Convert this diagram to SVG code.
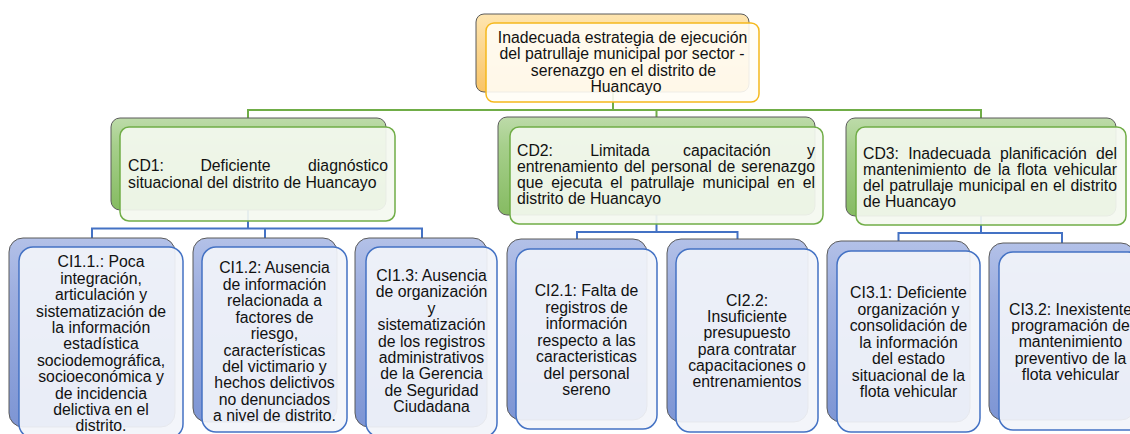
<svg xmlns="http://www.w3.org/2000/svg" width="1130" height="434" viewBox="0 0 1130 434">
<defs>
<linearGradient id="gOr" x1="0" y1="0" x2="0" y2="1"><stop offset="0" stop-color="#fee5b0"/><stop offset="1" stop-color="#f9c466"/></linearGradient>
<linearGradient id="gGr" x1="0" y1="0" x2="0" y2="1"><stop offset="0" stop-color="#bddba9"/><stop offset="0.3" stop-color="#a6cf8b"/><stop offset="1" stop-color="#86bb62"/></linearGradient>
<linearGradient id="gBl" x1="0" y1="0" x2="0" y2="1"><stop offset="0" stop-color="#b3c1e8"/><stop offset="0.3" stop-color="#9daedf"/><stop offset="1" stop-color="#7d95d4"/></linearGradient>
</defs>
<style>
.back{stroke:#5b5b5b;stroke-width:1}
.bo{fill:url(#gOr)}
.bg{fill:url(#gGr)}
.bb{fill:url(#gBl)}
.fo{fill:#fffdf6;fill-opacity:0.9;stroke:#f5b81c;stroke-width:1.5}
.fg{fill:#f4f8f0;fill-opacity:0.92;stroke:#70ad47;stroke-width:1.5}
.fb{fill:#f2f4fa;fill-opacity:0.92;stroke:#4472c4;stroke-width:1.5}
text{font-family:"Liberation Sans",Arial,sans-serif;font-size:15.8px;fill:#111}
.c{text-anchor:middle}
.e{text-anchor:end}
.lg{fill:none;stroke:#70ad47;stroke-width:2}
.lb{fill:none;stroke:#4472c4;stroke-width:2}
</style>
<g id="connectors">
<path class="lg" d="M613,92 V110 M247,110 H982 M248,110 V118 M656.5,110 V117 M981,110 V118"/>
<path class="lb" d="M248,210 V228.5 M91,228.5 H423 M92,228.5 V238 M265,228.5 V238 M422,228.5 V238"/>
<path class="lb" d="M656.5,215 V232 M576,232 H738.5 M577,232 V239 M737.5,232 V239"/>
<path class="lb" d="M981,216 V233 M897.5,233 H1063 M898.5,233 V241 M1062,233 V243"/>
</g>
<g id="root">
<rect class="back bo" x="476" y="14" width="273" height="78" rx="8"/>
<rect class="fo" x="486" y="23" width="273" height="79" rx="8"/>
<text class="c" x="622.5" y="43">Inadecuada estrategia de ejecución</text>
<text class="c" x="622" y="59.3">del patrullaje municipal por sector -</text>
<text class="c" x="623.5" y="75.6">serenazgo en el distrito de</text>
<text class="c" x="626" y="91.9">Huancayo</text>
</g>
<g id="cd1">
<rect class="back bg" x="111" y="118" width="275" height="92" rx="9"/>
<rect class="fg" x="120" y="127" width="275" height="94" rx="9"/>
<text x="128" y="171">CD1:</text>
<text class="c" x="235.5" y="171">Deficiente</text>
<text class="e" x="388" y="171">diagnóstico</text>
<text x="128" y="187.5">situacional del distrito de Huancayo</text>
</g>
<g id="cd2">
<rect class="back bg" x="498" y="117" width="317" height="98" rx="9"/>
<rect class="fg" x="510" y="127" width="313" height="97" rx="9"/>
<text x="517" y="156">CD2:</text>
<text class="c" x="620" y="156">Limitada</text>
<text class="c" x="727" y="156">capacitación</text>
<text class="e" x="815" y="156">y</text>
<text x="517" y="172.2" style="word-spacing:1.6px" textLength="298" lengthAdjust="spacing">entrenamiento del personal de serenazgo</text>
<text x="517" y="188.3" style="word-spacing:3.57px" textLength="298" lengthAdjust="spacing">que ejecuta el patrullaje municipal en el</text>
<text x="517" y="204.4">distrito de Huancayo</text>
</g>
<g id="cd3">
<rect class="back bg" x="846" y="118" width="270" height="98" rx="9"/>
<rect class="fg" x="856" y="127" width="270" height="98" rx="9"/>
<text x="863" y="158.5" style="word-spacing:4.8px" textLength="254" lengthAdjust="spacing">CD3: Inadecuada planificación del</text>
<text x="863" y="174.6" style="word-spacing:2.5px" textLength="254" lengthAdjust="spacing">mantenimiento de la flota vehicular</text>
<text x="863" y="190.7" style="word-spacing:0.75px" textLength="254" lengthAdjust="spacing">del patrullaje municipal en el distrito</text>
<text x="863" y="206.8">de Huancayo</text>
</g>
<g id="ci11">
<rect class="back bb" x="9" y="238" width="166" height="189" rx="14"/>
<rect class="fb" x="19" y="247" width="164" height="191" rx="14"/>
<text class="c" x="101" y="267.3">CI1.1.: Poca</text>
<text class="c" x="101" y="283.7">integración,</text>
<text class="c" x="101" y="300.1">articulación y</text>
<text class="c" x="101" y="316.5">sistematización de</text>
<text class="c" x="101" y="332.9">la información</text>
<text class="c" x="101" y="349.3">estadística</text>
<text class="c" x="101" y="365.7">sociodemográfica,</text>
<text class="c" x="101" y="382.1">socioeconómica y</text>
<text class="c" x="101" y="398.5">de incidencia</text>
<text class="c" x="101" y="414.9">delictiva en el</text>
<text class="c" x="101" y="431.3">distrito.</text>
</g>
<g id="ci12">
<rect class="back bb" x="193" y="238" width="144" height="184" rx="14"/>
<rect class="fb" x="202" y="247" width="145" height="185" rx="14"/>
<text class="c" x="274.5" y="273.3">CI1.2: Ausencia</text>
<text class="c" x="274.5" y="289.75">de información</text>
<text class="c" x="274.5" y="306.2">relacionada a</text>
<text class="c" x="274.5" y="322.65">factores de</text>
<text class="c" x="274.5" y="339.1">riesgo,</text>
<text class="c" x="274.5" y="355.55">características</text>
<text class="c" x="274.5" y="372">del victimario y</text>
<text class="c" x="274.5" y="388.45">hechos delictivos</text>
<text class="c" x="274.5" y="404.9">no denunciados</text>
<text class="c" x="274.5" y="421.35">a nivel de distrito.</text>
</g>
<g id="ci13">
<rect class="back bb" x="355" y="238" width="132" height="189" rx="14"/>
<rect class="fb" x="366" y="247" width="131" height="190" rx="14"/>
<text class="c" x="431.5" y="280.7">CI1.3: Ausencia</text>
<text class="c" x="431.5" y="297.15">de organización</text>
<text class="c" x="431.5" y="313.6">y</text>
<text class="c" x="431.5" y="330.05">sistematización</text>
<text class="c" x="431.5" y="346.5">de los registros</text>
<text class="c" x="431.5" y="362.95">administrativos</text>
<text class="c" x="431.5" y="379.4">de la Gerencia</text>
<text class="c" x="431.5" y="395.85">de Seguridad</text>
<text class="c" x="431.5" y="412.3">Ciudadana</text>
</g>
<g id="ci21">
<rect class="back bb" x="507" y="239" width="140" height="181" rx="14"/>
<rect class="fb" x="516" y="249" width="141" height="180" rx="14"/>
<text class="c" x="586.5" y="296.3">CI2.1: Falta de</text>
<text class="c" x="586.5" y="312.75">registros de</text>
<text class="c" x="586.5" y="329.2">información</text>
<text class="c" x="586.5" y="345.65">respecto a las</text>
<text class="c" x="586.5" y="362.1">caracteristicas</text>
<text class="c" x="586.5" y="378.55">del personal</text>
<text class="c" x="586.5" y="395">sereno</text>
</g>
<g id="ci22">
<rect class="back bb" x="667" y="239" width="141" height="183" rx="14"/>
<rect class="fb" x="676" y="249" width="142" height="183" rx="14"/>
<text class="c" x="747" y="305.7">CI2.2:</text>
<text class="c" x="747" y="322.05">Insuficiente</text>
<text class="c" x="747" y="338.4">presupuesto</text>
<text class="c" x="747" y="354.75">para contratar</text>
<text class="c" x="747" y="371.1">capacitaciones o</text>
<text class="c" x="747" y="387.45">entrenamientos</text>
</g>
<g id="ci31">
<rect class="back bb" x="827" y="241" width="143" height="181" rx="14"/>
<rect class="fb" x="837" y="251" width="143" height="181" rx="14"/>
<text class="c" x="908.5" y="298.3">CI3.1: Deficiente</text>
<text class="c" x="908.5" y="314.75">organización y</text>
<text class="c" x="908.5" y="331.2">consolidación de</text>
<text class="c" x="908.5" y="347.65">la información</text>
<text class="c" x="908.5" y="364.1">del estado</text>
<text class="c" x="908.5" y="380.55">situacional de la</text>
<text class="c" x="908.5" y="397">flota vehicular</text>
</g>
<g id="ci32">
<rect class="back bb" x="989" y="243" width="146" height="177" rx="14"/>
<rect class="fb" x="999" y="252" width="143" height="178" rx="14"/>
<text class="c" x="1070.5" y="315">CI3.2: Inexistente</text>
<text class="c" x="1070.5" y="331.2">programación de</text>
<text class="c" x="1070.5" y="347.4">mantenimiento</text>
<text class="c" x="1070.5" y="363.6">preventivo de la</text>
<text class="c" x="1070.5" y="379.8">flota vehicular</text>
</g>
</svg>
